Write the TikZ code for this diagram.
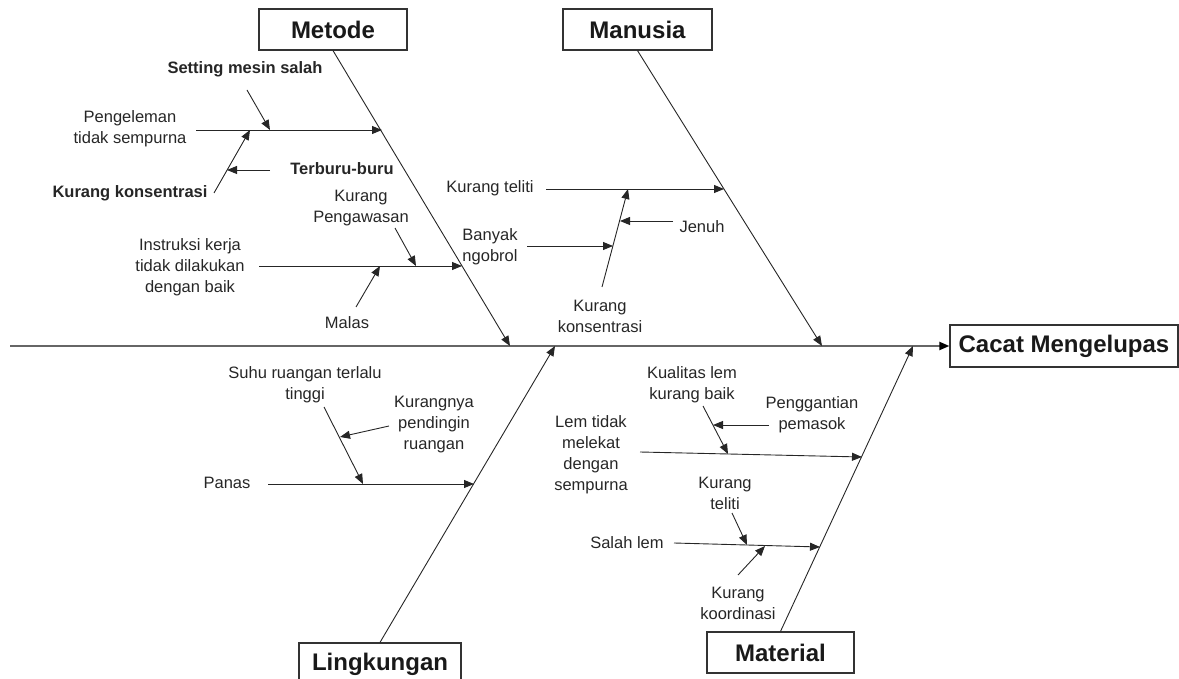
\documentclass[tikz,border=0pt]{standalone}
\usepackage{fontspec}
\setmainfont{Liberation Sans}
\usetikzlibrary{arrows.meta}
\begin{document}
\begin{tikzpicture}[x=1pt,y=-1pt,
  lbl/.style={font=\fontsize{16.5}{21}\selectfont, align=center, inner sep=0pt, text=black!85},
  blbl/.style={lbl, font=\fontsize{16.5}{21}\selectfont\bfseries},
  catbox/.style={draw=black!80, line width=1.2pt, font=\fontsize{24}{28}\selectfont\bfseries,
                 minimum height=41pt, inner sep=0pt, text=black!90},
  arr/.style={-{Triangle[length=10pt,width=8pt]}, line width=0.9pt, draw=black!85},
  spine/.style={-{Triangle[length=10pt,width=8pt,color=black]}, line width=2pt, draw=black!60},
]
\useasboundingbox (0,0) rectangle (1179,679);
\clip (0,0) rectangle (1179,679);

% category boxes and effect
\node[catbox, minimum width=148pt] (metode) at (333,29.5) {Metode};
\node[catbox, minimum width=149pt] (manusia) at (637.5,29.5) {Manusia};
\node[catbox, minimum width=162pt, minimum height=42pt] (lingkungan) at (380,664) {Lingkungan};
\node[catbox, minimum width=147pt] (material) at (780.5,652.5) {Material};
\node[catbox, minimum width=228pt, minimum height=42pt] (effect) at (1064,346) {Cacat Mengelupas};

% spine
\coordinate (tail) at (10,346);
\draw[spine] (tail) -- (effect.west);

% main bones
\coordinate (mtip) at (510,346);
\coordinate (htip) at (822,346);
\coordinate (ltip) at (555,346);
\coordinate (rtip) at (913,346);
\draw[arr] (metode.south) -- (mtip);
\draw[arr] (manusia.south) -- (htip);
\draw[arr] (lingkungan.north) -- (ltip);
\draw[arr] (material.north) -- (rtip);

% ---- Metode ----
\node[lbl] (pengeleman) at (130,129) {Pengeleman\\tidak sempurna};
\node[blbl] (setting) at (245,69) {Setting mesin salah};
\node[blbl] (kkons) at (130,193) {Kurang konsentrasi};
\node[blbl] (terburu) at (342,169) {Terburu-buru};
\node[lbl] (instruksi) at (190,267) {Instruksi kerja\\tidak dilakukan\\dengan baik};
\node[lbl] (pengawasan) at (361,208) {Kurang\\Pengawasan};
\node[lbl] (malas) at (347,323) {Malas};

\coordinate (m1a) at (196,130); \coordinate (m1b) at (382,130);
\coordinate (s1a) at (247,90);  \coordinate (s1b) at (270,130);
\coordinate (k1a) at (214,193); \coordinate (k1b) at (250,130);
\coordinate (t1a) at (270,170); \coordinate (t1b) at (227,170);
\coordinate (m2a) at (259,266); \coordinate (m2b) at (462,266);
\coordinate (p1a) at (395,228); \coordinate (p1b) at (416,266);
\coordinate (ml1a) at (356,307); \coordinate (ml1b) at (380,266);
\draw[arr] (m1a) -- (m1b);
\draw[arr] (s1a) -- (s1b);
\draw[arr] (k1a) -- (k1b);
\draw[arr] (t1a) -- (t1b);
\draw[arr] (m2a) -- (m2b);
\draw[arr] (p1a) -- (p1b);
\draw[arr] (ml1a) -- (ml1b);

% ---- Manusia ----
\node[lbl] (teliti) at (490,188) {Kurang teliti};
\node[lbl] (jenuh) at (702,227) {Jenuh};
\node[lbl] (banyak) at (490,247) {Banyak\\ngobrol};
\node[lbl] (hkons) at (600,316) {Kurang\\konsentrasi};

\coordinate (h1a) at (546,189); \coordinate (h1b) at (724,189);
\coordinate (h2a) at (602,287); \coordinate (h2b) at (628,189);
\coordinate (h3a) at (673,221); \coordinate (h3b) at (620,221);
\coordinate (h4a) at (527,246); \coordinate (h4b) at (613,246);
\draw[arr] (h1a) -- (h1b);
\draw[arr] (h2a) -- (h2b);
\draw[arr] (h3a) -- (h3b);
\draw[arr] (h4a) -- (h4b);

% ---- Lingkungan ----
\node[lbl] (panas) at (227,483) {Panas};
\node[lbl] (suhu) at (305,385) {Suhu ruangan terlalu\\tinggi};
\node[lbl] (pendingin) at (434,425) {Kurangnya\\pendingin\\ruangan};

\coordinate (l1a) at (268,484); \coordinate (l1b) at (474,484);
\coordinate (l2a) at (324,407); \coordinate (l2b) at (363,484);
\coordinate (l3a) at (389,426); \coordinate (l3b) at (340,437);
\draw[arr] (l1a) -- (l1b);
\draw[arr] (l2a) -- (l2b);
\draw[arr] (l3a) -- (l3b);

% ---- Material ----
\node[lbl] (lem) at (591,455) {Lem tidak\\melekat\\dengan\\sempurna};
\node[lbl] (kualitas) at (692,385) {Kualitas lem\\kurang baik};
\node[lbl] (pemasok) at (812,415) {Penggantian\\pemasok};
\node[lbl] (salah) at (627,543) {Salah lem};
\node[lbl] (rteliti) at (725,493) {Kurang\\teliti};
\node[lbl] (koordinasi) at (738,603) {Kurang\\koordinasi};

\coordinate (r1a) at (640,452); \coordinate (r1b) at (862,457);
\coordinate (r2a) at (703,406); \coordinate (r2b) at (728,454);
\coordinate (r3a) at (769,425); \coordinate (r3b) at (713,425);
\coordinate (r4a) at (674,543); \coordinate (r4b) at (820,547);
\coordinate (r5a) at (732,513); \coordinate (r5b) at (747,545);
\coordinate (r6a) at (738,575); \coordinate (r6b) at (765,546);
\draw[arr] (r1a) -- (r1b);
\draw[arr] (r2a) -- (r2b);
\draw[arr] (r3a) -- (r3b);
\draw[arr] (r4a) -- (r4b);
\draw[arr] (r5a) -- (r5b);
\draw[arr] (r6a) -- (r6b);
\end{tikzpicture}
\end{document}
